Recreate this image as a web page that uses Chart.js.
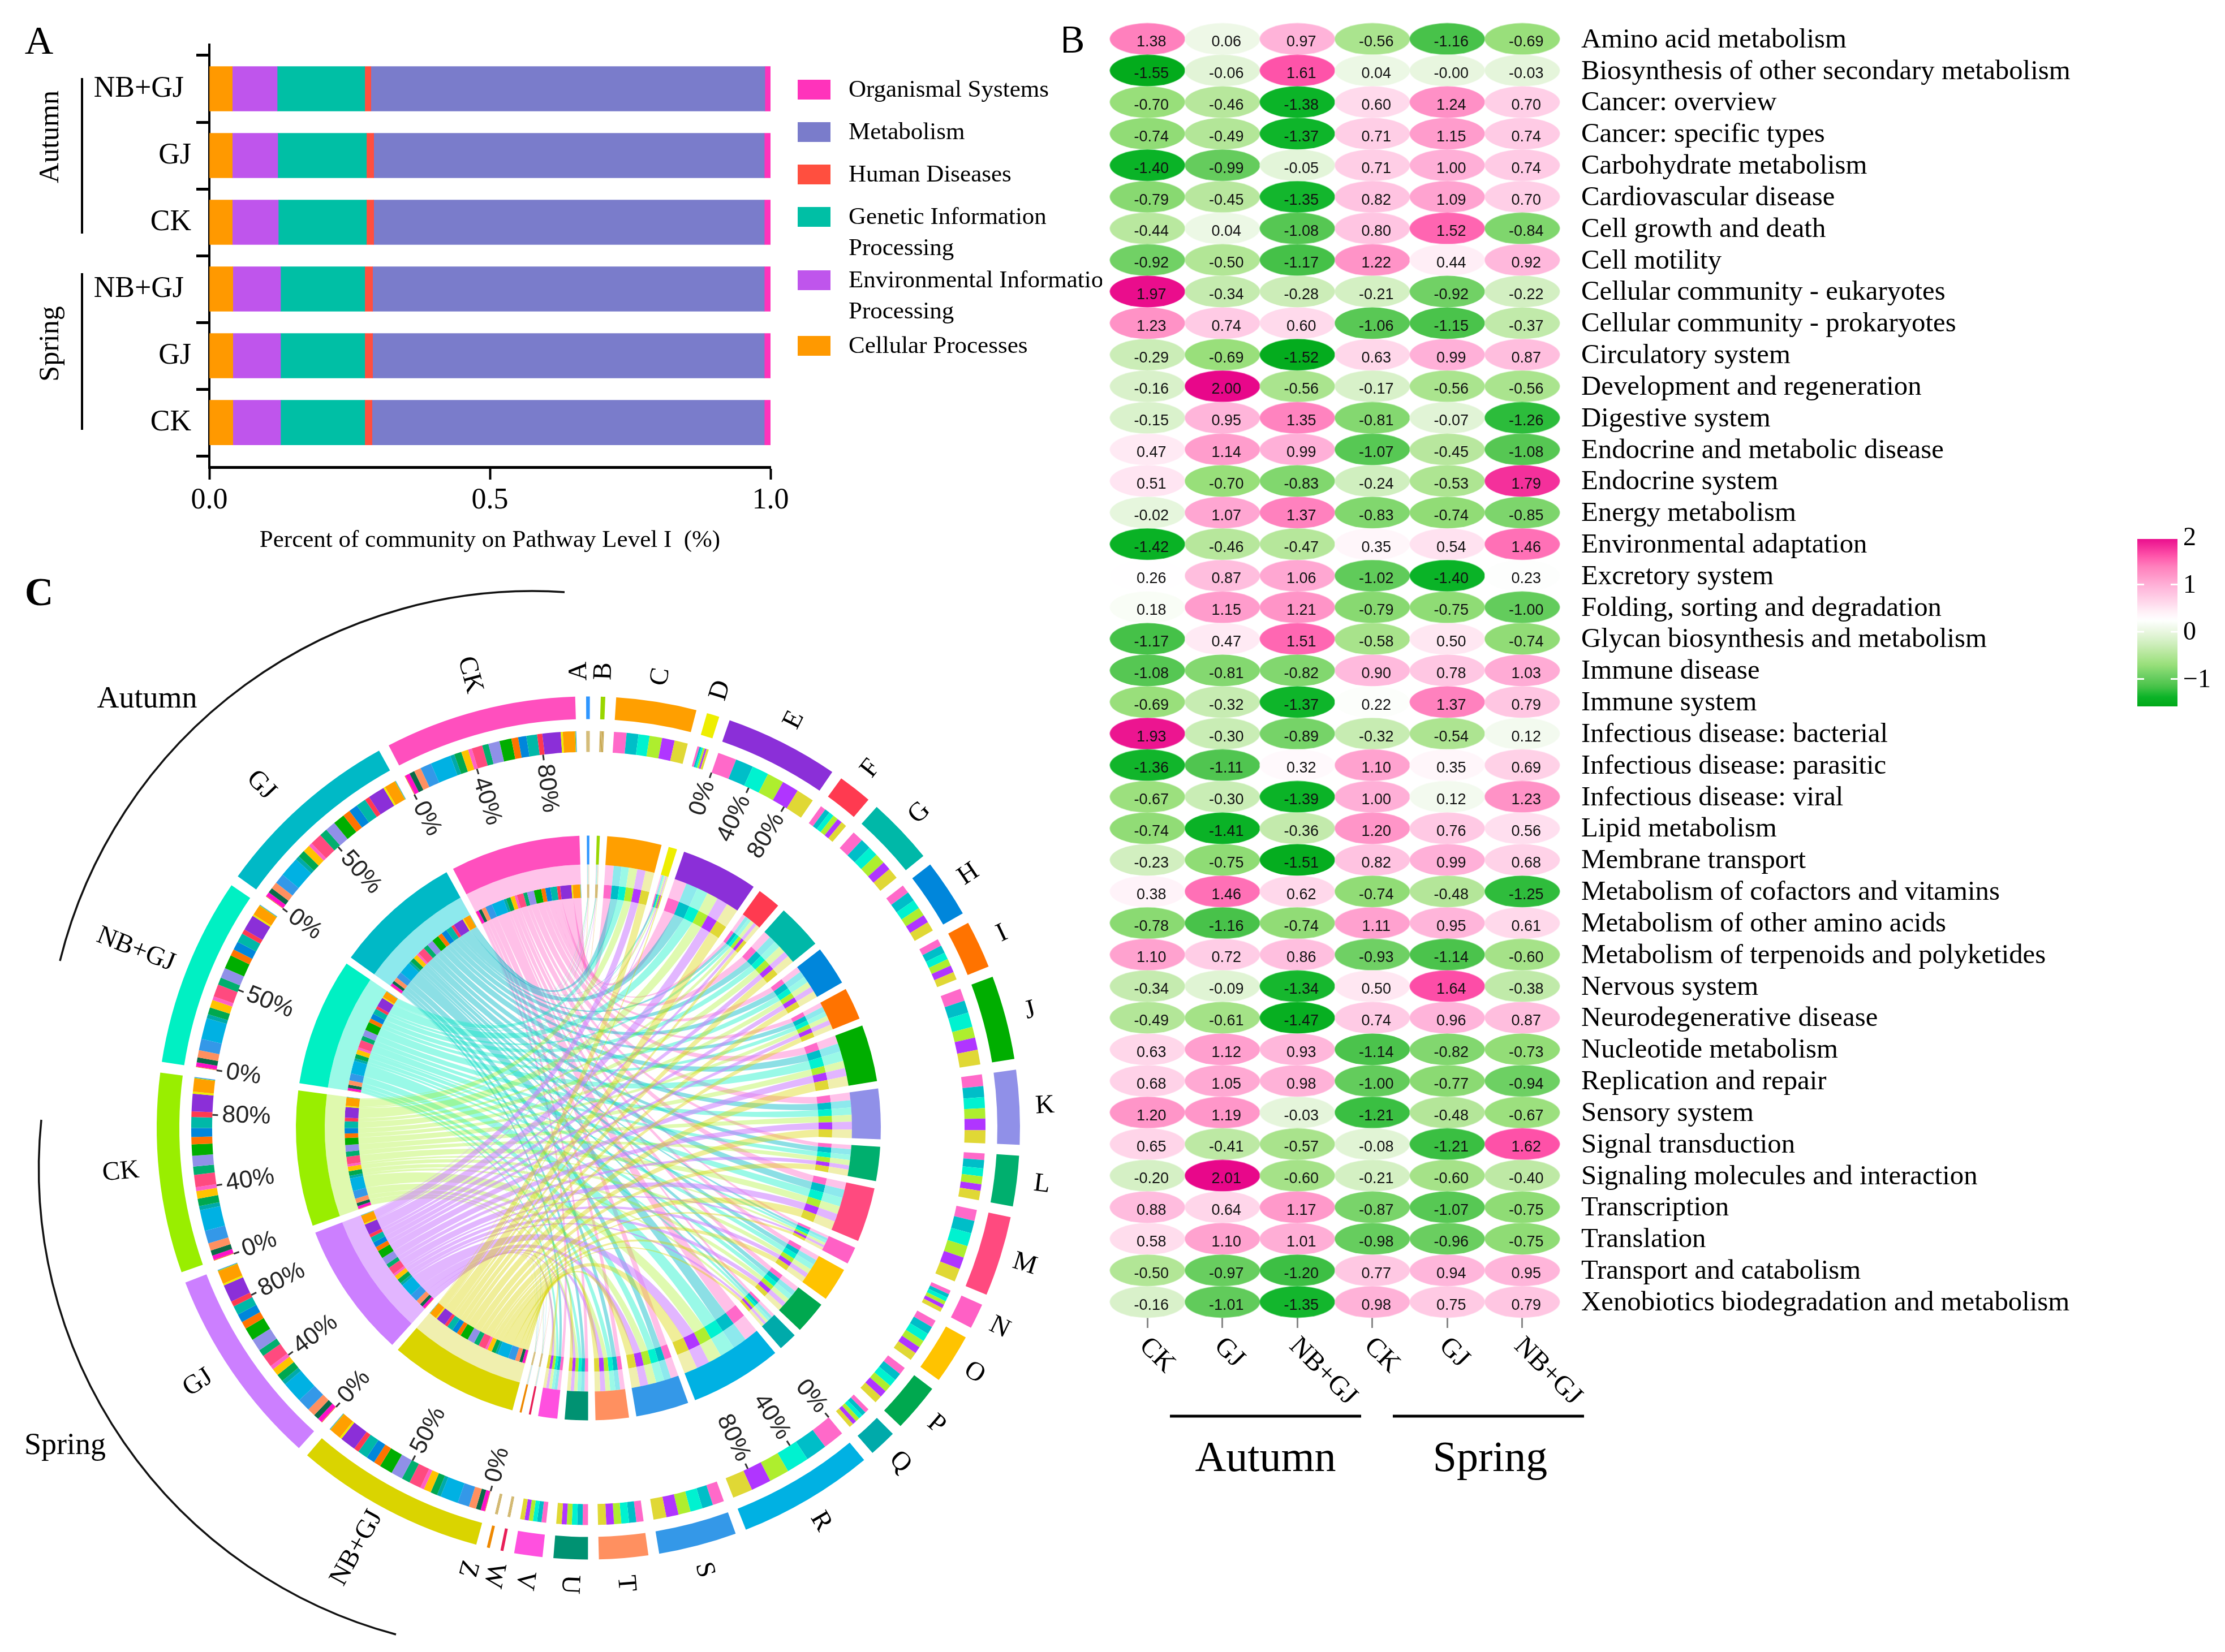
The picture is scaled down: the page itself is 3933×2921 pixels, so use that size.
<!DOCTYPE html>
<html>
<head>
<meta charset="utf-8">
<title>Pathway community charts</title>
<script src="https://cdn.jsdelivr.net/npm/chart.js@4"></script>
<style>
  html, body { margin: 0; padding: 0; background: #fff; }
  body { width: 3933px; height: 2921px; position: relative; overflow: hidden; }
  canvas { position: absolute; display: block; }
</style>
</head>
<body>
<canvas id="panelA" width="1948" height="1000" style="left:0;top:0;width:1948px;height:1000px"></canvas>
<canvas id="panelC" width="1880" height="1921" style="left:0;top:1000px;width:1880px;height:1921px"></canvas>
<canvas id="panelB" width="2053" height="2921" style="left:1880px;top:0;width:2053px;height:2921px"></canvas>
<script>
// panel A - stacked bars
const barGroups = ['NB+GJ', 'GJ', 'CK', 'NB+GJ', 'GJ', 'CK'];
const cellularProcesses = [0.041, 0.041, 0.041, 0.042, 0.042, 0.042];
const environmentalInfo = [0.080, 0.081, 0.082, 0.085, 0.085, 0.085];
const geneticInfo = [0.156, 0.158, 0.157, 0.150, 0.150, 0.150];
const humanDiseases = [0.011, 0.013, 0.013, 0.014, 0.014, 0.013];
const metabolism = [0.702, 0.696, 0.696, 0.698, 0.698, 0.699];
const organismalSystems = [0.010, 0.011, 0.011, 0.011, 0.011, 0.011];

// panel B - heatmap
const heatColumns = ['CK', 'GJ', 'NB+GJ', 'CK', 'GJ', 'NB+GJ'];
const heatRows = [
  'Amino acid metabolism', 'Biosynthesis of other secondary metabolism', 'Cancer: overview',
  'Cancer: specific types', 'Carbohydrate metabolism', 'Cardiovascular disease',
  'Cell growth and death', 'Cell motility', 'Cellular community - eukaryotes',
  'Cellular community - prokaryotes', 'Circulatory system', 'Development and regeneration',
  'Digestive system', 'Endocrine and metabolic disease', 'Endocrine system', 'Energy metabolism',
  'Environmental adaptation', 'Excretory system', 'Folding, sorting and degradation',
  'Glycan biosynthesis and metabolism', 'Immune disease', 'Immune system',
  'Infectious disease: bacterial', 'Infectious disease: parasitic', 'Infectious disease: viral',
  'Lipid metabolism', 'Membrane transport', 'Metabolism of cofactors and vitamins',
  'Metabolism of other amino acids', 'Metabolism of terpenoids and polyketides', 'Nervous system',
  'Neurodegenerative disease', 'Nucleotide metabolism', 'Replication and repair', 'Sensory system',
  'Signal transduction', 'Signaling molecules and interaction', 'Transcription', 'Translation',
  'Transport and catabolism', 'Xenobiotics biodegradation and metabolism'
];
const heatValues = [
  [1.38, 0.06, 0.97, -0.56, -1.16, -0.69],
  [-1.55, -0.06, 1.61, 0.04, -0, -0.03],
  [-0.70, -0.46, -1.38, 0.60, 1.24, 0.70],
  [-0.74, -0.49, -1.37, 0.71, 1.15, 0.74],
  [-1.40, -0.99, -0.05, 0.71, 1.00, 0.74],
  [-0.79, -0.45, -1.35, 0.82, 1.09, 0.70],
  [-0.44, 0.04, -1.08, 0.80, 1.52, -0.84],
  [-0.92, -0.50, -1.17, 1.22, 0.44, 0.92],
  [1.97, -0.34, -0.28, -0.21, -0.92, -0.22],
  [1.23, 0.74, 0.60, -1.06, -1.15, -0.37],
  [-0.29, -0.69, -1.52, 0.63, 0.99, 0.87],
  [-0.16, 2.00, -0.56, -0.17, -0.56, -0.56],
  [-0.15, 0.95, 1.35, -0.81, -0.07, -1.26],
  [0.47, 1.14, 0.99, -1.07, -0.45, -1.08],
  [0.51, -0.70, -0.83, -0.24, -0.53, 1.79],
  [-0.02, 1.07, 1.37, -0.83, -0.74, -0.85],
  [-1.42, -0.46, -0.47, 0.35, 0.54, 1.46],
  [0.26, 0.87, 1.06, -1.02, -1.40, 0.23],
  [0.18, 1.15, 1.21, -0.79, -0.75, -1.00],
  [-1.17, 0.47, 1.51, -0.58, 0.50, -0.74],
  [-1.08, -0.81, -0.82, 0.90, 0.78, 1.03],
  [-0.69, -0.32, -1.37, 0.22, 1.37, 0.79],
  [1.93, -0.30, -0.89, -0.32, -0.54, 0.12],
  [-1.36, -1.11, 0.32, 1.10, 0.35, 0.69],
  [-0.67, -0.30, -1.39, 1.00, 0.12, 1.23],
  [-0.74, -1.41, -0.36, 1.20, 0.76, 0.56],
  [-0.23, -0.75, -1.51, 0.82, 0.99, 0.68],
  [0.38, 1.46, 0.62, -0.74, -0.48, -1.25],
  [-0.78, -1.16, -0.74, 1.11, 0.95, 0.61],
  [1.10, 0.72, 0.86, -0.93, -1.14, -0.60],
  [-0.34, -0.09, -1.34, 0.50, 1.64, -0.38],
  [-0.49, -0.61, -1.47, 0.74, 0.96, 0.87],
  [0.63, 1.12, 0.93, -1.14, -0.82, -0.73],
  [0.68, 1.05, 0.98, -1.00, -0.77, -0.94],
  [1.20, 1.19, -0.03, -1.21, -0.48, -0.67],
  [0.65, -0.41, -0.57, -0.08, -1.21, 1.62],
  [-0.20, 2.01, -0.60, -0.21, -0.60, -0.40],
  [0.88, 0.64, 1.17, -0.87, -1.07, -0.75],
  [0.58, 1.10, 1.01, -0.98, -0.96, -0.75],
  [-0.50, -0.97, -1.20, 0.77, 0.94, 0.95],
  [-0.16, -1.01, -1.35, 0.98, 0.75, 0.79]
];

const pathwayLetters = ['A','B','C','D','E','F','G','H','I','J','K','L','M','N','O','P','Q','R','S','T','U','V','W','Z'];
const pathwaySizes = [0.5,0.6,10.8,1.7,15.3,4.6,9,7.8,6.4,11.3,10,6.8,10.8,3.4,6.7,6.5,3.7,18.3,10.5,6.6,4.6,3.8,0.4,0.4];
const sampleNames = ['CK', 'GJ', 'NB+GJ', 'CK', 'GJ', 'NB+GJ'];
const sampleSizes = [25.8, 25.3, 25.4, 26.9, 26.9, 25.6];
// share (%) of each pathway per sample, same order as sampleNames
const pathwayShares = [
  [17,16,17,17,16,17],[17,16,17,17,16,17],[17,16,15,17,17,18],[18,16,15,17,15,19],
  [18,17,16,16,16,17],[17,16,16,17,16,18],[18,17,16,17,14,18],[16,18,17,16,15,18],
  [16,18,16,16,16,18],[16,16,19,14,16,19],[17,16,16,15,17,19],[14,18,17,17,14,20],
  [15,17,18,16,16,18],[17,16,17,16,16,18],[16,17,18,16,15,18],[17,17,17,16,16,17],
  [17,17,17,16,16,17],[17,17,18,16,16,16],[16,15,17,17,17,18],[16,16,17,16,17,18],
  [17,17,17,16,16,17],[18,17,16,16,16,17],[17,17,17,17,16,16],[17,17,17,17,16,16]
];
const percentTicks = { 'CK-0': [0, 40, 80], 'GJ-1': [0, 50], 'NB+GJ-2': [0, 50], 'CK-3': [0, 40, 80], 'GJ-4': [0, 40, 80], 'NB+GJ-5': [0, 50], E: [0, 40, 80], R: [0, 40, 80] };

const SERIF = '"Liberation Serif", "Times New Roman", serif';
const SANS = '"Liberation Sans", Arial, sans-serif';

Chart.defaults.devicePixelRatio = 1;
Chart.defaults.animation = false;
Chart.defaults.responsive = false;
Chart.defaults.events = [];
Chart.defaults.color = '#000';

function putText(ctx, str, x, y, font, align, rot, color) {
  ctx.save();
  ctx.translate(x, y);
  if (rot) ctx.rotate(rot * Math.PI / 180);
  ctx.font = font;
  ctx.fillStyle = color || '#000';
  ctx.textAlign = align || 'left';
  ctx.textBaseline = 'middle';
  ctx.fillText(str, 0, 0);
  ctx.restore();
}

function line(ctx, x0, y0, x1, y1, width, color) {
  ctx.save();
  ctx.strokeStyle = color || '#000';
  ctx.lineWidth = width;
  ctx.beginPath();
  ctx.moveTo(x0, y0);
  ctx.lineTo(x1, y1);
  ctx.stroke();
  ctx.restore();
}

// ---------- panel A ----------
const barSeries = [
  ['Cellular Processes', cellularProcesses, '#FF9900'],
  ['Environmental Information', environmentalInfo, '#BF55EC'],
  ['Genetic Information', geneticInfo, '#00BFA5'],
  ['Human Diseases', humanDiseases, '#FF4F3F'],
  ['Metabolism', metabolism, '#7A7CCB'],
  ['Organismal Systems', organismalSystems, '#FF33BB']
];
const legendRows = [
  ['#FF33BB', 141, ['Organismal Systems']],
  ['#7A7CCB', 216, ['Metabolism']],
  ['#FF4F3F', 291, ['Human Diseases']],
  ['#00BFA5', 366, ['Genetic Information', 'Processing']],
  ['#BF55EC', 478, ['Environmental Information', 'Processing']],
  ['#FF9900', 594, ['Cellular Processes']]
];

const panelADecor = {
  id: 'panelADecor',
  afterDraw(chart) {
    const ctx = chart.ctx;
    const labelFont = '43px ' + SERIF;
    legendRows.forEach(row => {
      ctx.fillStyle = row[0];
      ctx.fillRect(1410, row[1], 58, 35);
      row[2].forEach((t, i) => putText(ctx, t, 1500, row[1] + 19 + i * 55, labelFont));
    });
    putText(ctx, 'A', 69, 77, '70px ' + SERIF, 'center');
    line(ctx, 145, 138, 145, 413, 4);
    line(ctx, 145, 483, 145, 760, 4);
    putText(ctx, 'Autumn', 90, 242, '50px ' + SERIF, 'center', -90);
    putText(ctx, 'Spring', 90, 608, '50px ' + SERIF, 'center', -90);
  }
};

new Chart(document.getElementById('panelA'), {
  type: 'bar',
  data: {
    datasets: barSeries.map(s => ({
      label: s[0],
      data: s[1].map((v, i) => ({ x: v, y: i })),
      backgroundColor: s[2],
      barThickness: 79,
      stack: 'all'
    }))
  },
  options: {
    indexAxis: 'y',
    layout: { padding: { left: 0, top: 79, right: 586, bottom: 0 } },
    plugins: { legend: { display: false }, tooltip: { enabled: false } },
    scales: {
      x: {
        type: 'linear', min: 0, max: 1, stacked: true,
        afterFit: s => { s.height = 174; },
        afterBuildTicks: s => { s.ticks = [0, 0.5, 1].map(v => ({ value: v })); },
        grid: { drawOnChartArea: false, tickLength: 22, tickWidth: 4, tickColor: '#000' },
        border: { width: 5, color: '#000' },
        ticks: { font: { family: SERIF, size: 52 }, padding: 6, maxRotation: 0, callback: v => v.toFixed(1) },
        title: {
          display: true, text: 'Percent of community on Pathway Level I  (%)',
          font: { family: SERIF, size: 43 }, padding: { top: 0, bottom: 18 }
        }
      },
      y: {
        type: 'linear', min: -0.661, max: 5.669, reverse: true, stacked: true, offset: false,
        afterFit: s => { s.width = 370; },
        afterBuildTicks: s => { s.ticks = barGroups.map((g, i) => ({ value: i })); },
        grid: { drawOnChartArea: false, tickLength: 23, tickWidth: 5, tickColor: '#000' },
        border: { width: 4, color: '#000' },
        ticks: {
          font: { family: SERIF, size: 52 }, padding: 9, autoSkip: false,
          // NB+GJ sits a little further from the axis than the short labels
          callback: v => (barGroups[v].length > 2 ? barGroups[v] + ' ' : barGroups[v])
        }
      }
    }
  },
  plugins: [panelADecor]
});

// ---------- panel B ----------
const heatStopValues = [-1.6, -1.38, -1.16, -0.9, -0.7, -0.46, -0.2, 0.05, 0.25, 0.44, 0.6, 0.97, 1.2, 1.38, 1.6, 2.0];
const heatStopColors = ['#00A818', '#0BB428', '#48C24A', '#74D267', '#98DF7A', '#B7E79C', '#D5F0C5', '#EDF8E6',
  '#FFFFFF', '#FFEEF6', '#FFDAEC', '#FFB3D9', '#FF95C8', '#FF80BD', '#FF55AA', '#E8078A'];

function hexToRgb(h) {
  return [parseInt(h.slice(1, 3), 16), parseInt(h.slice(3, 5), 16), parseInt(h.slice(5, 7), 16)];
}

function heatColor(v) {
  const n = heatStopValues.length;
  if (v <= heatStopValues[0]) return heatStopColors[0];
  if (v >= heatStopValues[n - 1]) return heatStopColors[n - 1];
  let i = 0;
  while (v > heatStopValues[i + 1]) i++;
  const t = (v - heatStopValues[i]) / (heatStopValues[i + 1] - heatStopValues[i]);
  const a = hexToRgb(heatStopColors[i]), b = hexToRgb(heatStopColors[i + 1]);
  return 'rgb(' + a.map((c, k) => Math.round(c + (b[k] - c) * t)).join(',') + ')';
}

// chart.js has no ellipse point style, a small canvas works as one
const ellipseCache = {};
function ellipseFor(color) {
  if (!ellipseCache[color]) {
    const c = document.createElement('canvas');
    c.width = 134;
    c.height = 57;
    const g = c.getContext('2d');
    g.fillStyle = color;
    g.beginPath();
    g.ellipse(67, 28.5, 66.5, 28, 0, 0, Math.PI * 2);
    g.fill();
    ellipseCache[color] = c;
  }
  return ellipseCache[color];
}

function cellText(v) {
  return Object.is(v, -0) ? '-0.00' : v.toFixed(2);
}

const heatPoints = [];
heatValues.forEach((row, y) => row.forEach((v, x) => heatPoints.push({ x: x, y: y, v: v })));

const panelBDecor = {
  id: 'panelBDecor',
  afterDatasetsDraw(chart) {
    const ctx = chart.ctx;
    chart.getDatasetMeta(0).data.forEach((pt, i) => {
      putText(ctx, cellText(heatPoints[i].v), pt.x + 7, pt.y + 6, '27px ' + SANS, 'center', 0, '#111');
    });
  },
  afterDraw(chart) {
    const ctx = chart.ctx;
    const xs = chart.scales.x;
    ctx.save();
    ctx.translate(-1880, 0);
    heatColumns.forEach((c, i) => {
      putText(ctx, c, xs.getPixelForValue(i) + 1880 - 7, 2373, '48px ' + SERIF, 'left', 45);
    });
    putText(ctx, 'B', 1894, 75, '70px ' + SERIF, 'center');
    line(ctx, 2068, 2504, 2406, 2504, 5);
    line(ctx, 2462, 2504, 2800, 2504, 5);
    putText(ctx, 'Autumn', 2237, 2581, '76px ' + SERIF, 'center');
    putText(ctx, 'Spring', 2634, 2581, '76px ' + SERIF, 'center');

    // colour bar
    const cbX = 3778, cbW = 71, cbZero = 1117, cbUnit = 83.5;
    const top = 953, bottom = 1249;
    const grad = ctx.createLinearGradient(0, top, 0, bottom);
    const barValue = y => (cbZero - y) / cbUnit;
    for (let y = top; y <= bottom; y += 8) {
      grad.addColorStop((y - top) / (bottom - top), heatColor(barValue(y)));
    }
    ctx.fillStyle = grad;
    ctx.fillRect(cbX, top, cbW, bottom - top);
    [1, 0, -1].forEach(v => {
      const y = cbZero - v * cbUnit;
      line(ctx, cbX, y, cbX + 12, y, 3, '#fff');
      line(ctx, cbX + cbW - 12, y, cbX + cbW, y, 3, '#fff');
    });
    [2, 1, 0, -1].forEach(v => {
      const label = v < 0 ? '\u2212' + (-v) : String(v);
      putText(ctx, label, 3859, cbZero - v * cbUnit + 2, '46px ' + SERIF);
    });
    ctx.restore();
  }
};

new Chart(document.getElementById('panelB'), {
  type: 'scatter',
  data: {
    datasets: [{
      label: 'z-score',
      data: heatPoints,
      pointRadius: 30,
      clip: false,
      pointStyle: c => ellipseFor(heatColor(c.raw ? c.raw.v : 0))
    }]
  },
  options: {
    layout: { padding: { left: 82, top: 41, right: 0, bottom: 0 } },
    plugins: { legend: { display: false }, tooltip: { enabled: false } },
    scales: {
      x: {
        type: 'linear', min: -0.5, max: 5.5,
        afterFit: s => { s.height = 591; },
        afterBuildTicks: s => { s.ticks = heatColumns.map((c, i) => ({ value: i })); },
        grid: { drawOnChartArea: false, tickLength: 18, tickWidth: 3, tickColor: '#888' },
        border: { display: false },
        ticks: { display: false }
      },
      y: {
        type: 'linear', position: 'right', min: -0.5, max: 40.5, reverse: true,
        // tick padding also counts as top margin, the plot has to keep its height
        afterFit: s => { s.width = 1176; s.paddingTop = 0; s.paddingBottom = 0; },
        afterBuildTicks: s => { s.ticks = heatRows.map((r, i) => ({ value: i })); },
        grid: { display: false },
        border: { display: false },
        ticks: { font: { family: SERIF, size: 48.8 }, padding: 30, labelOffset: 2, autoSkip: false, callback: v => heatRows[v] }
      }
    }
  },
  plugins: [panelBDecor]
});

// ---------- panel C ----------
const GAP = 1.45;
const pathwayColors = ['#2E96FF', '#99D600', '#FF9F00', '#EEEE00', '#8B2FD8', '#FF3A50', '#00B8A8', '#0086DB',
  '#FF7300', '#00AE00', '#9090E8', '#00AF6E', '#FF4A7F', '#FF60C5', '#FFC300', '#00A84F', '#00AAAA', '#00B1E3',
  '#3498E8', '#FF9060', '#009272', '#FF50DF', '#E81F58', '#EE8800'];
const sampleColors = ['#FF4FBE', '#00B9C6', '#00F0C3', '#99EE00', '#CC7FFF', '#DAD400'];
const sampleStack = ['#FF69C9', '#00BEC8', '#00F2D0', '#AEEE2E', '#B035FF', '#E0D835'];
const sampleBand = ['#FFC3EA', '#8DE9ED', '#9AF9E7', '#DFF9AE', '#E2B5FF', '#F0EFAE'];
const pathwayStack = pathwayColors.slice();
pathwayStack[21] = '#FF10C8';
pathwayStack[20] = '#0A6A48';
const ribbonColors = ['rgba(255,79,190,0.36)', 'rgba(0,185,198,0.45)', 'rgba(0,240,195,0.4)',
  'rgba(153,238,0,0.31)', 'rgba(204,127,255,0.57)', 'rgba(218,212,0,0.4)'];
const labelNudge = { A: -1.1, W: 0.4, Z: 1.9, 'GJ-1': -2, 'CK-3': 0.7, 'GJ-4': 1.3, 'NB+GJ-5': 1 };
const labelRadius = { 'CK-0': 828, 'GJ-1': 838, 'NB+GJ-2': 860, 'CK-3': 830, 'GJ-4': 824, 'NB+GJ-5': 848 };
const CLEAR = 'rgba(0,0,0,0)';
const TINY_STACK = '#C8A850';

const sampleTotals = sampleNames.map((n, s) =>
  pathwayShares.reduce((sum, row, l) => sum + pathwaySizes[l] * row[s], 0));

const sectorData = [], sectorFill = [], sectorInfo = [];
const stackData = [], stackFill = [], bandData = [], bandFill = [];
const letterPiece = pathwayLetters.map(() => []);
const samplePiece = pathwayLetters.map(() => []);

function addGap() {
  sectorData.push(GAP); sectorFill.push(CLEAR); sectorInfo.push(null);
  stackData.push(GAP); stackFill.push(CLEAR);
  bandData.push(GAP); bandFill.push(CLEAR);
}

pathwayLetters.forEach((letter, l) => {
  sectorInfo.push({ name: letter, key: letter, isSample: false });
  sectorData.push(pathwaySizes[l]);
  sectorFill.push(pathwayColors[l]);
  const rowTotal = pathwayShares[l].reduce((a, b) => a + b, 0);
  pathwayShares[l].forEach((share, s) => {
    const part = pathwaySizes[l] * share / rowTotal;
    letterPiece[l][s] = stackData.length;
    stackData.push(part); stackFill.push(pathwaySizes[l] < 1 ? TINY_STACK : sampleStack[s]);
    bandData.push(part); bandFill.push(sampleBand[s]);
  });
  addGap();
});

// samples run clockwise from the last one to the first, pathways inside them from Z to A
for (let s = sampleNames.length - 1; s >= 0; s--) {
  sectorInfo.push({ name: sampleNames[s], key: sampleNames[s] + '-' + s, isSample: true });
  sectorData.push(sampleSizes[s]);
  sectorFill.push(sampleColors[s]);
  bandData.push(sampleSizes[s]);
  bandFill.push(sampleBand[s]);
  for (let l = pathwayLetters.length - 1; l >= 0; l--) {
    samplePiece[l][s] = stackData.length;
    stackData.push(pathwaySizes[l] * pathwayShares[l][s] / sampleTotals[s] * sampleSizes[s]);
    stackFill.push(pathwayStack[l]);
  }
  addGap();
}

function arcThrough(ctx, p, q, r) {
  const d = 2 * (p[0] * (q[1] - r[1]) + q[0] * (r[1] - p[1]) + r[0] * (p[1] - q[1]));
  const sq = a => a[0] * a[0] + a[1] * a[1];
  const cx = (sq(p) * (q[1] - r[1]) + sq(q) * (r[1] - p[1]) + sq(r) * (p[1] - q[1])) / d;
  const cy = (sq(p) * (r[0] - q[0]) + sq(q) * (p[0] - r[0]) + sq(r) * (q[0] - p[0])) / d;
  const rad = Math.hypot(p[0] - cx, p[1] - cy);
  const a0 = Math.atan2(p[1] - cy, p[0] - cx), a1 = Math.atan2(r[1] - cy, r[0] - cx);
  const am = Math.atan2(q[1] - cy, q[0] - cx);
  const norm = a => (a + Math.PI * 4) % (Math.PI * 2);
  const clockwise = norm(am - a0) < norm(a1 - a0);
  ctx.save();
  ctx.strokeStyle = '#111';
  ctx.lineWidth = 3.5;
  ctx.beginPath();
  ctx.arc(cx, cy, rad, a0, a1, !clockwise);
  ctx.stroke();
  ctx.restore();
}

// ribbon sides bend towards the centre, less so the further apart the ends are
function ribbonControl(c, r, a, b) {
  const mx = Math.cos(a) + Math.cos(b), my = Math.sin(a) + Math.sin(b);
  const spread = Math.hypot(mx, my) / 2;
  const cr = r * 0.3 * spread * spread;
  const dir = Math.atan2(my, mx);
  return [c.x + cr * Math.cos(dir), c.y + cr * Math.sin(dir)];
}

const chordRibbons = {
  id: 'chordRibbons',
  beforeDatasetsDraw(chart) {
    const ctx = chart.ctx;
    const arcs = chart.getDatasetMeta(6).data;
    const c = arcs[0];
    const r = c.innerRadius;
    ctx.save();
    sampleNames.forEach((n, s) => {
      ctx.fillStyle = ribbonColors[s];
      pathwayLetters.forEach((letter, l) => {
        const from = arcs[letterPiece[l][s]], to = arcs[samplePiece[l][s]];
        const ca = ribbonControl(c, r, from.endAngle, to.startAngle);
        const cb = ribbonControl(c, r, to.endAngle, from.startAngle);
        ctx.beginPath();
        ctx.arc(c.x, c.y, r, from.startAngle, from.endAngle);
        ctx.quadraticCurveTo(ca[0], ca[1], c.x + r * Math.cos(to.startAngle), c.y + r * Math.sin(to.startAngle));
        ctx.arc(c.x, c.y, r, to.startAngle, to.endAngle);
        ctx.quadraticCurveTo(cb[0], cb[1], c.x + r * Math.cos(from.startAngle), c.y + r * Math.sin(from.startAngle));
        ctx.closePath();
        ctx.fill();
      });
    });
    ctx.restore();
  },
  afterDraw(chart) {
    const ctx = chart.ctx;
    const arcs = chart.getDatasetMeta(0).data;
    const ox = arcs[0].x, oy = arcs[0].y;
    ctx.save();
    ctx.translate(0, -1000);
    const at = (r, a) => [ox + r * Math.cos(a), oy + 1000 + r * Math.sin(a)];
    sectorInfo.forEach((info, i) => {
      if (!info) return;
      const arc = arcs[i];
      const mid = (arc.startAngle + arc.endAngle) / 2 + (labelNudge[info.key] || 0) * Math.PI / 180;
      const deg = mid * 180 / Math.PI;
      const p = at(labelRadius[info.key] || 808, mid);
      putText(ctx, info.name, p[0], p[1], '47px ' + SERIF, 'center', info.isSample ? deg + 180 : deg);
      const ticks = percentTicks[info.key];
      if (!ticks) return;
      ticks.forEach(t => {
        const a = arc.startAngle + (arc.endAngle - arc.startAngle) * t / 100;
        const d = a * 180 / Math.PI;
        const p0 = at(665, a), p1 = at(655, a), p2 = at(648, a);
        line(ctx, p0[0], p0[1], p1[0], p1[1], 3, '#333');
        if (info.isSample) putText(ctx, t + '%', p2[0], p2[1], '43px ' + SANS, 'left', d + 180, '#222');
        else putText(ctx, t + '%', p2[0], p2[1], '43px ' + SANS, 'right', d, '#222');
      });
    });
    putText(ctx, 'C', 69, 1052, 'bold 70px ' + SERIF, 'center');
    putText(ctx, 'Autumn', 260, 1237, '54px ' + SERIF, 'center');
    putText(ctx, 'Spring', 115, 2557, '54px ' + SERIF, 'center');
    arcThrough(ctx, [106, 1699], [446, 1202], [998, 1047]);
    arcThrough(ctx, [73, 1980], [191, 2507], [700, 2890]);
    ctx.restore();
  }
};

const flatSlice = { borderWidth: 0, hoverBorderWidth: 0 };
new Chart(document.getElementById('panelC'), {
  type: 'doughnut',
  data: {
    labels: sectorInfo.map(i => (i ? i.name : '')),
    datasets: [
      Object.assign({ data: sectorData, backgroundColor: sectorFill, weight: 40 }, flatSlice),
      Object.assign({ data: [1], backgroundColor: [CLEAR], weight: 21 }, flatSlice),
      Object.assign({ data: stackData, backgroundColor: stackFill, weight: 37 }, flatSlice),
      Object.assign({ data: [1], backgroundColor: [CLEAR], weight: 148 }, flatSlice),
      Object.assign({ data: sectorData, backgroundColor: sectorFill, weight: 51 }, flatSlice),
      Object.assign({ data: bandData, backgroundColor: bandFill, weight: 35 }, flatSlice),
      Object.assign({ data: stackData, backgroundColor: stackFill, weight: 24 }, flatSlice)
    ]
  },
  options: {
    rotation: -0.3,
    cutout: 407,
    layout: { padding: { left: 277, top: 231.5, right: 77, bottom: 163.5 } },
    plugins: { legend: { display: false }, tooltip: { enabled: false } }
  },
  plugins: [chordRibbons]
});
</script>
</body>
</html>
